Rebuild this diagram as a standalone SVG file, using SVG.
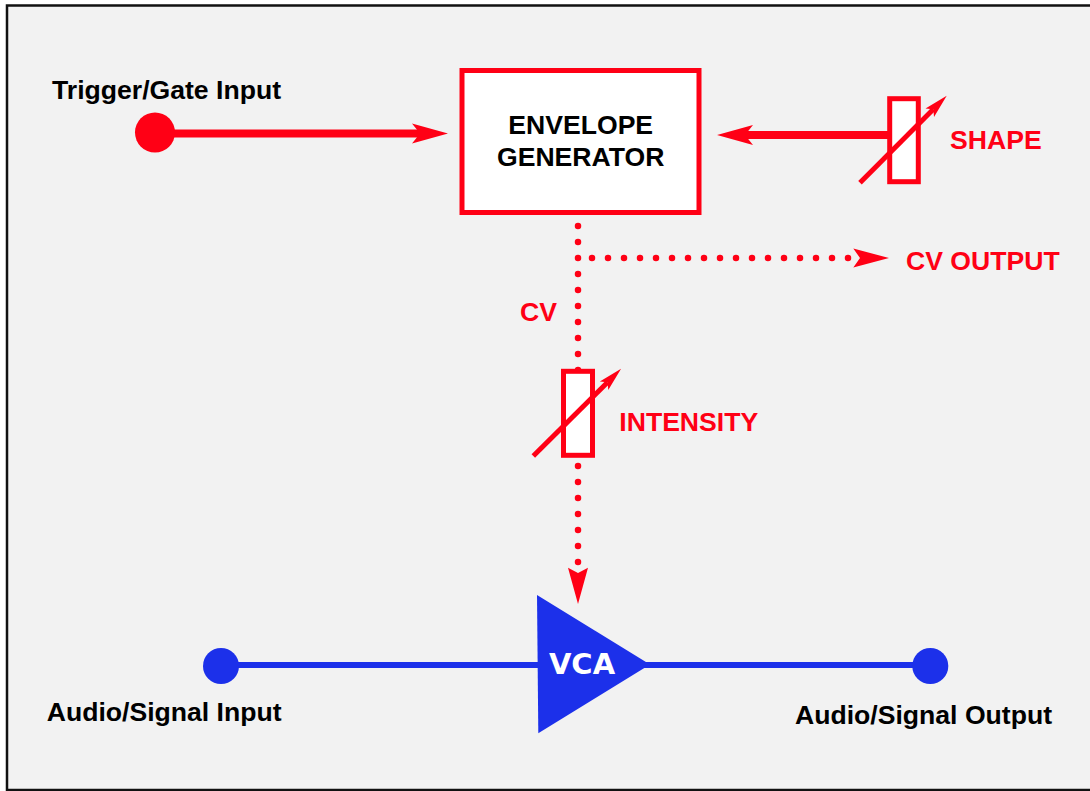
<svg xmlns="http://www.w3.org/2000/svg" width="1090" height="791" viewBox="0 0 1090 791">
<defs>
<style>
.lbl{font-family:"Liberation Sans",Arial,Helvetica,sans-serif;font-weight:bold;font-size:26.6px}
.blk{fill:#000}
.red{fill:#ff0015}
.redline{stroke:#ff0015;fill:none}
.dots{stroke:#ff0015;stroke-width:6.5;stroke-linecap:round;stroke-dasharray:0 16;fill:none}
.blue{stroke:#1c30ea;fill:none}
.res{fill:#fff;stroke:#ff0015;stroke-width:5}
</style>
<marker id="headBig" markerUnits="userSpaceOnUse" markerWidth="40" markerHeight="24" refX="8" refY="10" orient="auto" overflow="visible">
<path d="M0,0 L36,10 L0,20 L8,10 Z" fill="#ff0015"/>
</marker>
<marker id="headSmall" markerUnits="userSpaceOnUse" markerWidth="30" markerHeight="16" refX="5" refY="6" orient="auto" overflow="visible">
<path d="M0,0 L24,6 L0,12 L5,6 Z" fill="#ff0015"/>
</marker>
</defs>
<rect x="0" y="0" width="1090" height="791" fill="#fff"/>
<rect id="frame" x="7" y="5.5" width="1100" height="784.5" fill="#f2f2f2" stroke="#111" stroke-width="2.5"/>

<g id="connectors">
<line class="redline" x1="155" y1="133.5" x2="420" y2="133.5" stroke-width="8" marker-end="url(#headBig)"/>
<line class="redline" x1="890" y1="135" x2="745" y2="135" stroke-width="8" marker-end="url(#headBig)"/>
<path class="dots" d="M578,226 V371"/>
<path class="dots" d="M592,258 H849"/>
<polygon class="red" points="889,258 853.3,248.5 860,258 853.3,267.5"/>
<path class="dots" d="M578,466 V563"/>
<polygon class="red" points="578,604 568,567.7 578,573 588,567.7"/>
<line class="blue" x1="221" y1="665" x2="930" y2="665" stroke-width="6"/>
</g>

<g id="trigger-input">
<circle cx="155" cy="132.5" r="20" fill="#ff0015"/>
<text class="lbl blk" x="52" y="99">Trigger/Gate Input</text>
</g>

<g id="envelope-generator">
<rect x="462" y="70.5" width="237" height="142" fill="#fff" stroke="#ff0015" stroke-width="5"/>
<text class="lbl blk" x="580.7" y="134" text-anchor="middle">ENVELOPE</text>
<text class="lbl blk" x="580.7" y="166" text-anchor="middle">GENERATOR</text>
</g>

<g id="shape-pot">
<rect class="res" x="889.7" y="98.7" width="28.6" height="83"/>
<line class="redline" x1="860" y1="182.7" x2="933.3" y2="109.2" stroke-width="5" marker-end="url(#headSmall)"/>
<text class="lbl red" x="950" y="149.3">SHAPE</text>
</g>

<g id="cv-output">
<text class="lbl red" x="906" y="270">CV OUTPUT</text>
</g>

<g id="cv-label">
<text class="lbl red" x="520" y="320.7">CV</text>
</g>

<g id="intensity-pot">
<rect class="res" x="563.5" y="371.3" width="29" height="84"/>
<line class="redline" x1="533.3" y1="456" x2="607.6" y2="382.2" stroke-width="5" marker-end="url(#headSmall)"/>
<text class="lbl red" x="619.3" y="430.7">INTENSITY</text>
</g>

<g id="vca">
<polygon points="537,595 538.3,733.3 650,664.5" fill="#1c30ea"/>
<text x="582" y="674" text-anchor="middle" font-family="'DejaVu Sans',Verdana,sans-serif" font-weight="bold" font-size="29" fill="#fff">VCA</text>
</g>

<g id="audio-input">
<circle cx="221" cy="666" r="18" fill="#1c30ea"/>
<text class="lbl blk" x="46.7" y="720.7">Audio/Signal Input</text>
</g>

<g id="audio-output">
<circle cx="930.3" cy="666" r="18" fill="#1c30ea"/>
<text class="lbl blk" x="795" y="724.3">Audio/Signal Output</text>
</g>
</svg>
